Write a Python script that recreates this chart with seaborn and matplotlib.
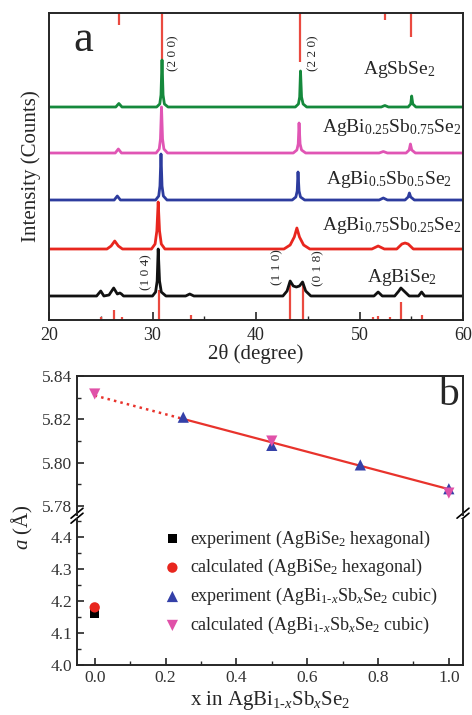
import numpy as np
import pandas as pd
import matplotlib
matplotlib.use("Agg")
import matplotlib.pyplot as plt
from matplotlib.ticker import MultipleLocator, FormatStrFormatter
import seaborn as sns

# ---------------- panel a : XRD patterns (relative counts) ----------------
sample_names = ["AgBiSe2", "AgBi0.75Sb0.25Se2", "AgBi0.5Sb0.5Se2", "AgBi0.25Sb0.75Se2", "AgSbSe2"]
sample_labels = ["AgBiSe$_2$", "AgBi$_{0.75}$Sb$_{0.25}$Se$_2$", "AgBi$_{0.5}$Sb$_{0.5}$Se$_2$",
                 "AgBi$_{0.25}$Sb$_{0.75}$Se$_2$", "AgSbSe$_2$"]
stack_offset = [24, 71, 120, 167, 213]
curve_colors = ["#111111", "#e8261e", "#2d3c9e", "#e055b4", "#15893c"]

tt_x000 = [20, 24.6, 25.0, 25.3, 25.8, 26.25, 26.6, 26.85, 27.0, 27.2, 30.0, 30.3, 30.45, 30.55, 30.68,
           30.85, 31.3, 33.2, 33.6, 34.0, 42.6, 43.0, 43.3, 43.6, 43.9, 44.2, 44.5, 44.8, 45.3, 51.4,
           51.8, 52.2, 53.4, 53.8, 54.0, 54.3, 54.8, 55.7, 56.0, 56.3, 60]
cnt_x000 = [0, 0, 5, 0, 1, 8, 2, 3, 2, 0, 0, 4, 15, 47, 15,
            4, 0, 0, 2, 0, 0, 5, 15, 10, 9, 10, 14, 5, 0, 0,
            4, 0, 0, 5, 8, 5, 0, 0, 4, 0, 0]

tt_x025 = [20, 25.6, 26.0, 26.35, 26.7, 27.1, 29.9, 30.25, 30.42, 30.55, 30.68, 30.85, 31.2, 42.7, 43.3,
           43.7, 43.95, 44.2, 44.6, 45.2, 51.2, 51.8, 52.4, 53.6, 54.1, 54.4, 54.7, 55.2, 60]
cnt_x025 = [0, 0, 3, 8, 3, 0, 0, 5, 18, 47, 18, 5, 0, 0, 4,
            12, 21, 12, 4, 0, 0, 3, 0, 0, 5, 6, 5, 0, 0]

tt_x050 = [20, 26.3, 26.6, 26.9, 30.3, 30.6, 30.72, 30.82, 30.92, 31.05, 31.4, 43.5, 43.85, 43.98, 44.06,
           44.16, 44.3, 44.7, 51.9, 52.3, 52.7, 54.4, 54.7, 54.82, 54.95, 55.3, 60]
cnt_x050 = [0, 0, 4, 0, 0, 4, 14, 46, 14, 4, 0, 0, 3, 9, 28,
            9, 3, 0, 0, 2, 0, 0, 3, 7, 3, 0, 0]

tt_x075 = [20, 26.4, 26.7, 27.0, 30.35, 30.65, 30.77, 30.87, 30.97, 31.1, 31.45, 43.6, 43.95, 44.08, 44.16,
           44.26, 44.4, 44.8, 51.9, 52.3, 52.7, 54.5, 54.8, 54.92, 55.05, 55.4, 60]
cnt_x075 = [0, 0, 4, 0, 0, 4, 14, 46, 14, 4, 0, 0, 3, 9, 30,
            9, 3, 0, 0, 1.5, 0, 0, 3, 9, 3, 0, 0]

tt_x100 = [20, 26.45, 26.75, 27.05, 30.4, 30.7, 30.82, 30.92, 31.02, 31.15, 31.5, 43.8, 44.1, 44.22, 44.3,
           44.4, 44.55, 44.9, 52.1, 52.45, 52.8, 54.7, 54.95, 55.04, 55.15, 55.45, 60]
cnt_x100 = [0, 0, 3.5, 0, 0, 3, 12, 47, 12, 3, 0, 0, 3, 10, 36,
            10, 3, 0, 0, 1.5, 0, 0, 3, 11, 3, 0, 0]

# reference sticks: hexagonal AgBiSe2 (bottom) and cubic AgSbSe2 (hanging from top)
hex_ref_pos = [25.0, 26.25, 27.1, 30.6, 33.7, 43.3, 44.55, 51.3, 51.8, 52.9, 54.0, 56.0]
hex_ref_int = [3, 10, 3, 30, 5, 38, 38, 3, 4, 3, 18, 5]
cub_ref_pos = [26.75, 30.92, 44.28, 52.45, 54.95]
cub_ref_int = [12, 75, 49, 7, 24]

# ---------------- panel b : lattice parameter ----------------
x_exp_cubic = [0.25, 0.5, 0.75, 1.0]
a_exp_cubic = [5.821, 5.808, 5.799, 5.788]
x_calc_cubic = [0.0, 0.5, 1.0]
a_calc_cubic = [5.8317, 5.810, 5.786]
x_hex = [0.0]
a_exp_hex = [4.16]
a_calc_hex = [4.18]

sns.set_style("ticks")
plt.rcParams['font.family'] = ['Liberation Serif', 'DejaVu Serif']
plt.rcParams['mathtext.fontset'] = 'custom'
plt.rcParams['mathtext.rm'] = 'Liberation Serif'
plt.rcParams['mathtext.it'] = 'Liberation Serif:italic'
plt.rcParams['axes.linewidth'] = 1.4
plt.rcParams['xtick.direction'] = 'in'
plt.rcParams['ytick.direction'] = 'in'

W, H = 472, 715
fig = plt.figure(figsize=(W / 100, H / 100), dpi=100)


def box(l, t, r, b):
    return [l / W, (H - b) / H, (r - l) / W, (b - t) / H]


# ======== panel a ========
ax_a = fig.add_axes(box(49, 13, 463, 320))
patterns = [(tt_x000, cnt_x000), (tt_x025, cnt_x025), (tt_x050, cnt_x050), (tt_x075, cnt_x075), (tt_x100, cnt_x100)]
frames = []
for name, off, (tt, cnt) in zip(sample_names, stack_offset, patterns):
    frames.append(pd.DataFrame({"two_theta": tt, "counts": np.array(cnt) + off, "sample": name}))
xrd_df = pd.concat(frames, ignore_index=True)

ymax_a = 307
ax_a.vlines(hex_ref_pos, 0, hex_ref_int, color="#ea4a40", lw=1.6, zorder=1)
ax_a.vlines(cub_ref_pos, ymax_a - np.array(cub_ref_int), ymax_a, color="#ea4a40", lw=1.6, zorder=1)
sns.lineplot(data=xrd_df, x="two_theta", y="counts", hue="sample", palette=dict(zip(sample_names, curve_colors)),
             estimator=None, sort=False, legend=False, lw=2.0, ax=ax_a, zorder=2)

ax_a.set_xlim(20, 60)
ax_a.set_ylim(0, ymax_a)
ax_a.set_yticks([])
ax_a.xaxis.set_major_locator(MultipleLocator(10))
ax_a.xaxis.set_minor_locator(MultipleLocator(5))
ax_a.tick_params(axis='x', which='major', length=6, width=1.2, labelsize=13, pad=5)
ax_a.tick_params(axis='x', which='minor', length=3, width=1.0)
ax_a.set_xlabel("2θ (degree)", fontsize=15, labelpad=0)
ax_a.set_ylabel("Intensity (Counts)", fontsize=15, labelpad=6)

label_right = [437, 462, 452, 462, 435]
label_y = [278, 225, 180, 128, 69]
for lab, xr, yc in zip(sample_labels, label_right, label_y):
    ax_a.text(xr / W, (H - yc) / H, lab, transform=fig.transFigure, ha="right", va="center", fontsize=14)

hkl = ["(2 0 0)", "(2 2 0)", "(1 0 4)", "(1 1 0)", "(0 1 8)"]
hkl_xy = [(173, 53), (313, 53), (146, 272), (277, 267), (318, 268)]
for lab, (px, py) in zip(hkl, hkl_xy):
    fig.text(px / W, (H - py) / H, lab, rotation=90, ha="center", va="center", fontsize=9.5)

fig.text(83 / W, (H - 40) / H, "a", fontsize=32, ha="center", va="center")

# ======== panel b ========
ax_up = fig.add_axes(box(77, 376, 463, 515))
ax_lo = fig.add_axes(box(77, 519, 463, 665))

coef = np.polyfit(x_exp_cubic, a_exp_cubic, 1)
fit_solid_x = [x_exp_cubic[0], x_exp_cubic[-1]]
fit_dot_x = [x_calc_cubic[0], x_exp_cubic[0]]
ax_up.plot(fit_dot_x, np.polyval(coef, fit_dot_x), ls=":", color="#e8332c", lw=1.8, zorder=2)
ax_up.plot(fit_solid_x, np.polyval(coef, fit_solid_x), ls="-", color="#e8332c", lw=1.6, zorder=2)

sns.scatterplot(x=x_exp_cubic, y=a_exp_cubic, marker="^", s=65, color="#3440a8", edgecolor="none",
                label="experiment (AgBi$_{1\\text{-}x}$Sb$_x$Se$_2$ cubic)", ax=ax_up, zorder=3)
sns.scatterplot(x=x_calc_cubic, y=a_calc_cubic, marker="v", s=65, color="#e051a8", edgecolor="none",
                label="calculated (AgBi$_{1\\text{-}x}$Sb$_x$Se$_2$ cubic)", ax=ax_up, zorder=3)
sns.scatterplot(x=x_hex, y=a_exp_hex, marker="s", s=40, color="black", edgecolor="none",
                label="experiment (AgBiSe$_2$ hexagonal)", ax=ax_lo, zorder=3)
sns.scatterplot(x=x_hex, y=a_calc_hex, marker="o", s=55, color="#e8261e", edgecolor="none",
                label="calculated (AgBiSe$_2$ hexagonal)", ax=ax_lo, zorder=3)

h_up, l_up = ax_up.get_legend_handles_labels()
h_lo, l_lo = ax_lo.get_legend_handles_labels()
ax_up.get_legend().remove()
ax_lo.legend(h_lo + h_up, l_lo + l_up, loc="upper left", bbox_to_anchor=(0.205, 0.985), frameon=False,
             fontsize=13, handlelength=1.0, handletextpad=0.45, labelspacing=0.43, borderaxespad=0)

for ax in (ax_up, ax_lo):
    ax.set_xlim(-0.05, 1.04)
    ax.xaxis.set_major_locator(MultipleLocator(0.2))
    ax.xaxis.set_minor_locator(MultipleLocator(0.1))
    ax.tick_params(which='major', length=5, width=1.2, labelsize=12.5, labelcolor="#333333")
    ax.tick_params(which='minor', length=3, width=1.0)

ax_up.set_ylim(5.7759, 5.84)
ax_up.yaxis.set_major_locator(MultipleLocator(0.02))
ax_up.yaxis.set_minor_locator(MultipleLocator(0.01))
ax_up.yaxis.set_major_formatter(FormatStrFormatter("%.2f"))
ax_up.spines['bottom'].set_visible(False)
ax_up.tick_params(axis='x', which='both', bottom=False, labelbottom=False)

ax_lo.set_ylim(4.0, 4.456)
ax_lo.yaxis.set_major_locator(MultipleLocator(0.1))
ax_lo.yaxis.set_minor_locator(MultipleLocator(0.05))
ax_lo.yaxis.set_major_formatter(FormatStrFormatter("%.1f"))
ax_lo.spines['top'].set_visible(False)
ax_lo.set_xlabel("x in AgBi$_{1\\text{-}x}$Sb$_x$Se$_2$", fontsize=15, labelpad=2)

# break marks on both spines
dx, dy = 6 / 386, 5 / 139
for xs in (0, 1):
    for off in (-2.5, 2.5):
        ax_up.plot([xs - dx, xs + dx], [-dy + off / 139 - 0.005, dy + off / 139 - 0.005], color="black",
                   lw=1.2, transform=ax_up.transAxes, clip_on=False)

fig.text(22 / W, (H - 527) / H, "$a$ (Å)", rotation=90, ha="center", va="center", fontsize=15)
fig.text(448 / W, (H - 395) / H, "b", fontsize=30, ha="center", va="center")

fig.savefig("out.png", dpi=100)
